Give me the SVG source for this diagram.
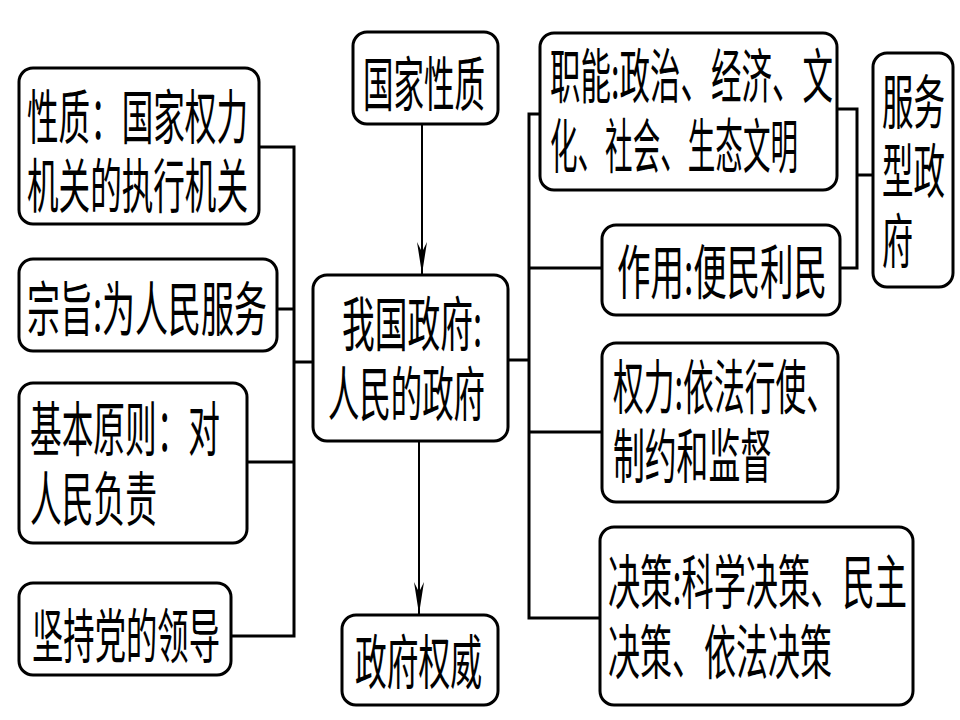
<svg xmlns="http://www.w3.org/2000/svg" width="960" height="720" viewBox="0 0 960 720">
<style>
.box{fill:#fff;stroke:#000;stroke-width:3}
.t{font-family:"Noto Sans CJK SC","Noto Sans CJK JP",sans-serif;font-size:59px;fill:#000}
.ln{fill:none;stroke:#000;stroke-width:3}
.ar{fill:none;stroke:#000;stroke-width:2}
</style>
<defs>
<marker id="arw" markerUnits="userSpaceOnUse" markerWidth="34" markerHeight="14" viewBox="-32 -7 34 14" refX="0" refY="0" orient="auto" overflow="visible">
<path d="M0,0 L-32,-5 L-22,0 L-32,5 Z" fill="#000"/>
</marker>
</defs>
<rect width="960" height="720" fill="#fff"/>
<g id="connectors">
<polyline class="ln" points="259,147 294,147 294,636 231,636"/>
<line class="ln" x1="277" y1="309" x2="294" y2="309"/>
<line class="ln" x1="247" y1="462" x2="294" y2="462"/>
<line class="ln" x1="294" y1="362" x2="313" y2="362"/>
<polyline class="ln" points="540,114 529,114 529,618 600,618"/>
<line class="ln" x1="508" y1="360" x2="529" y2="360"/>
<line class="ln" x1="529" y1="268" x2="602" y2="268"/>
<line class="ln" x1="529" y1="432" x2="602" y2="432"/>
<polyline class="ln" points="837,109 857,109 857,268 840,268"/>
<line class="ln" x1="857" y1="175" x2="873" y2="175"/>
<line class="ar" x1="422" y1="124" x2="422" y2="274" marker-end="url(#arw)"/>
<line class="ar" x1="419" y1="441" x2="419" y2="614" marker-end="url(#arw)"/>
</g>
<g id="n-xingzhi">
<rect class="box" x="19" y="68" width="240" height="156" rx="14"/>
<text class="t" x="27" y="139" textLength="221" lengthAdjust="spacingAndGlyphs">性质：国家权力</text>
<text class="t" x="27" y="208" textLength="221" lengthAdjust="spacingAndGlyphs">机关的执行机关</text>
</g>
<g id="n-zongzhi">
<rect class="box" x="19" y="259" width="258" height="92" rx="14"/>
<text class="t" x="27" y="331" textLength="240" lengthAdjust="spacingAndGlyphs">宗旨:为人民服务</text>
</g>
<g id="n-yuanze">
<rect class="box" x="19" y="383" width="228" height="160" rx="14"/>
<text class="t" x="30" y="451" textLength="190" lengthAdjust="spacingAndGlyphs">基本原则：对</text>
<text class="t" x="30" y="521" textLength="127" lengthAdjust="spacingAndGlyphs">人民负责</text>
</g>
<g id="n-dang">
<rect class="box" x="19" y="583" width="212" height="92" rx="14"/>
<text class="t" x="32" y="658" textLength="188" lengthAdjust="spacingAndGlyphs">坚持党的领导</text>
</g>
<g id="n-guojia">
<rect class="box" x="353" y="32" width="145" height="92" rx="14"/>
<text class="t" x="363" y="106" textLength="122" lengthAdjust="spacingAndGlyphs">国家性质</text>
</g>
<g id="n-center">
<rect class="box" x="313" y="275" width="195" height="166" rx="14"/>
<text class="t" x="342" y="346" textLength="140" lengthAdjust="spacingAndGlyphs">我国政府:</text>
<text class="t" x="328" y="416" textLength="157" lengthAdjust="spacingAndGlyphs">人民的政府</text>
</g>
<g id="n-quanwei">
<rect class="box" x="342" y="615" width="156" height="90" rx="14"/>
<text class="t" x="355" y="684" textLength="127" lengthAdjust="spacingAndGlyphs">政府权威</text>
</g>
<g id="n-zhineng">
<rect class="box" x="540" y="33" width="297" height="157" rx="14"/>
<text class="t" x="550" y="98" textLength="283" lengthAdjust="spacingAndGlyphs">职能:政治、经济、文</text>
<text class="t" x="550" y="168" textLength="248" lengthAdjust="spacingAndGlyphs">化、社会、生态文明</text>
</g>
<g id="n-zuoyong">
<rect class="box" x="602" y="225" width="238" height="90" rx="14"/>
<text class="t" x="617" y="294" textLength="210" lengthAdjust="spacingAndGlyphs">作用:便民利民</text>
</g>
<g id="n-fuwu">
<rect class="box" x="873" y="53" width="80" height="234" rx="14"/>
<text class="t" x="882" y="124" textLength="63" lengthAdjust="spacingAndGlyphs">服务</text>
<text class="t" x="882" y="193" textLength="63" lengthAdjust="spacingAndGlyphs">型政</text>
<text class="t" x="882" y="263" textLength="31" lengthAdjust="spacingAndGlyphs">府</text>
</g>
<g id="n-quanli">
<rect class="box" x="602" y="343" width="236" height="159" rx="14"/>
<text class="t" x="613" y="409" textLength="224" lengthAdjust="spacingAndGlyphs">权力:依法行使、</text>
<text class="t" x="613" y="478" textLength="159" lengthAdjust="spacingAndGlyphs">制约和监督</text>
</g>
<g id="n-juece">
<rect class="box" x="600" y="527" width="313" height="178" rx="14"/>
<text class="t" x="608" y="604" textLength="299" lengthAdjust="spacingAndGlyphs">决策:科学决策、民主</text>
<text class="t" x="608" y="674" textLength="224" lengthAdjust="spacingAndGlyphs">决策、依法决策</text>
</g>
</svg>
